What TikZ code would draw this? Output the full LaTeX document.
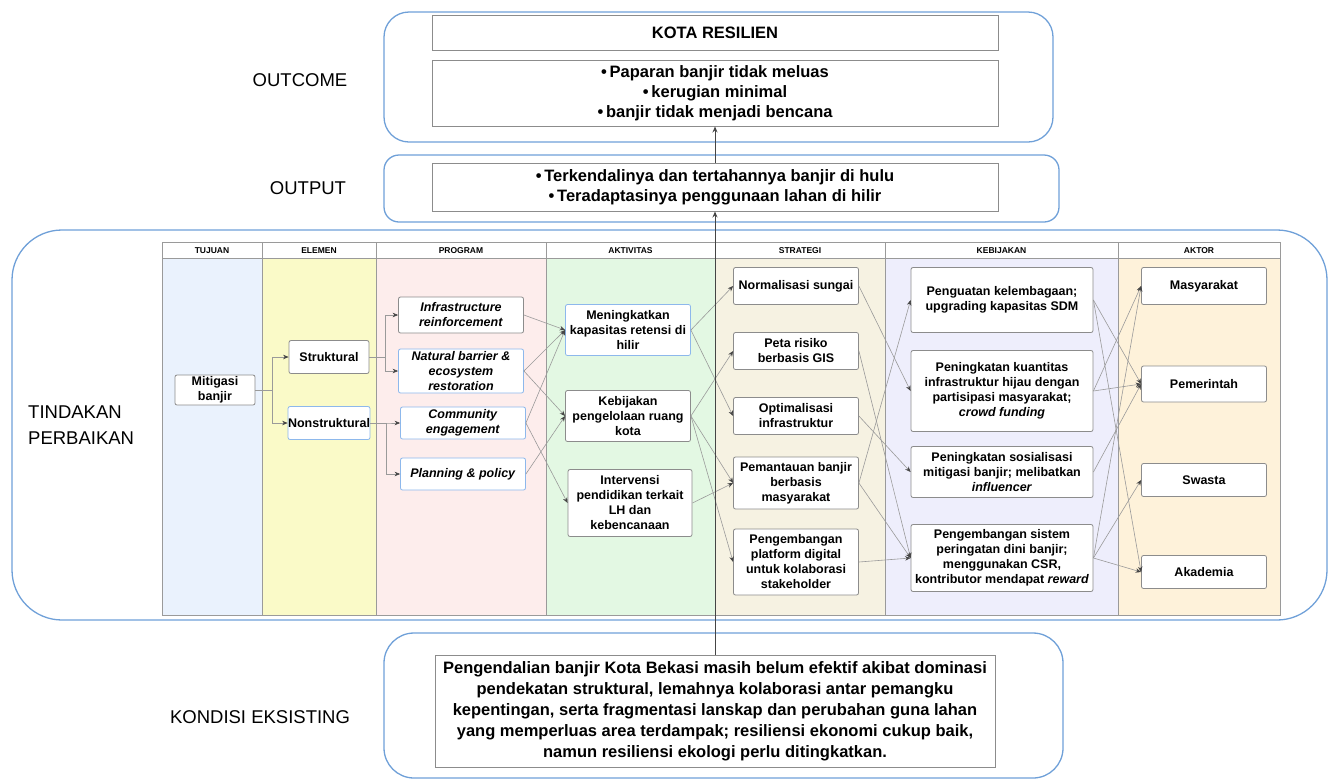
\documentclass[tikz,border=0pt]{standalone}
\usepackage{fontspec}
\setmainfont{Liberation Sans}
\usetikzlibrary{arrows.meta}
\definecolor{frameblue}{HTML}{6FA0D8}
\definecolor{boxgray}{HTML}{8C8C8C}
\definecolor{boxblue}{HTML}{8DB8EC}
\definecolor{linegray}{HTML}{9A9A9A}
\definecolor{arrowdark}{HTML}{454545}
\definecolor{tablegray}{HTML}{9A9A9A}
\definecolor{ctujuan}{HTML}{EAF2FD}
\definecolor{celemen}{HTML}{FAFAC8}
\definecolor{cprogram}{HTML}{FDEDEC}
\definecolor{caktivitas}{HTML}{E3F8E3}
\definecolor{cstrategi}{HTML}{F6F2E2}
\definecolor{ckebijakan}{HTML}{EEEEFC}
\definecolor{caktor}{HTML}{FEF2DA}
\begin{document}
\begin{tikzpicture}[x=1pt,y=-1pt,
  frame/.style={draw=frameblue, line width=1.3pt},
  bigbox/.style={draw=boxgray, fill=white, line width=0.9pt, align=center, font=\bfseries\fontsize{16.5}{20}\selectfont, inner sep=0pt},
  box/.style={draw=boxgray, fill=white, rounded corners=2pt, line width=0.8pt, align=center, font=\bfseries\fontsize{12.5}{15}\selectfont, inner sep=1pt},
  bbox/.style={box, draw=boxblue},
  conn/.style={draw=linegray, line width=0.6pt, -{Stealth[length=5.5pt,width=4.5pt,color=arrowdark]}},
  mainconn/.style={draw=arrowdark, line width=1pt, -{Stealth[length=6pt,width=5pt]}},
  hdr/.style={font=\bfseries\fontsize{8.5}{10}\selectfont, inner sep=0pt},
  lbl/.style={font=\fontsize{18.5}{26}\selectfont, align=left, inner sep=0pt},
  col/.style={draw=tablegray, line width=0.8pt},
]
\useasboundingbox (0,0) rectangle (1330,780);

% frames
\draw[frame, rounded corners=25pt] (384,12) rectangle (1053,142);
\draw[frame, rounded corners=15pt] (384,155) rectangle (1059,222);
\draw[frame, rounded corners=50pt] (12,230) rectangle (1327,620);
\draw[frame, rounded corners=30pt] (384,633) rectangle (1063,778);

% left labels
\node[lbl] (lout) at (300,80) {OUTCOME};
\node[lbl] (loutput) at (308,188) {OUTPUT};
\node[lbl, anchor=west] (ltin) at (28,425) {TINDAKAN\\PERBAIKAN};
\node[lbl] (lkon) at (260,717) {KONDISI EKSISTING};

% table columns
\foreach \a/\b/\c/\t in {162/262/ctujuan/TUJUAN, 262/376/celemen/ELEMEN, 376/546/cprogram/PROGRAM, 546/715/caktivitas/AKTIVITAS, 715/885/cstrategi/STRATEGI, 885/1118/ckebijakan/KEBIJAKAN, 1118/1280/caktor/AKTOR}{
  \draw[col, fill=\c] (\a,258) rectangle (\b,615);
  \draw[col, fill=white] (\a,242) rectangle (\b,258);
  \node[hdr] (hdr-\t) at ({(\a+\b)/2},250.5) {\t};
}

% outcome / output / kondisi boxes
\node[bigbox, minimum width=566, minimum height=35] (kota) at (715,32.5) {KOTA RESILIEN};
\node[bigbox, minimum width=566, minimum height=66] (outcome) at (715,93) {•\,Paparan banjir tidak meluas\\ •\,kerugian minimal\\ •\,banjir tidak menjadi bencana};
\node[bigbox, minimum width=566, minimum height=48] (outbox) at (715,187) {•\,Terkendalinya dan tertahannya banjir di hulu\\ •\,Teradaptasinya penggunaan lahan di hilir};
\node[bigbox, minimum width=560, minimum height=112, font=\bfseries\fontsize{16.5}{21}\selectfont] (kondisi) at (715,711) {Pengendalian banjir Kota Bekasi masih belum efektif akibat dominasi\\ pendekatan struktural, lemahnya kolaborasi antar pemangku\\ kepentingan, serta fragmentasi lanskap dan perubahan guna lahan\\ yang memperluas area terdampak; resiliensi ekonomi cukup baik,\\ namun resiliensi ekologi perlu ditingkatkan.};

% table nodes
\node[box, minimum width=80, minimum height=30] (mit) at (215,390) {Mitigasi\\banjir};
\node[box, minimum width=80, minimum height=33] (str) at (329,357) {Struktural};
\node[bbox, minimum width=80, minimum height=33, inner sep=0pt] (non) at (329,423) {Nonstruktural};

\node[box, minimum width=125, minimum height=36] (infra) at (461,315) {\textit{Infrastructure}\\\textit{reinforcement}};
\node[bbox, minimum width=125, minimum height=44] (nat) at (461,371) {\textit{Natural barrier \&}\\\textit{ecosystem}\\\textit{restoration}};
\node[bbox, minimum width=125, minimum height=32] (com) at (463,423) {\textit{Community}\\\textit{engagement}};
\node[bbox, minimum width=125, minimum height=32] (plan) at (463,474) {\textit{Planning \& policy}};

\node[bbox, minimum width=125, minimum height=51] (men) at (628,330) {Meningkatkan\\kapasitas retensi di\\hilir};
\node[box, minimum width=125, minimum height=51] (keb) at (628,416) {Kebijakan\\pengelolaan ruang\\kota};
\node[box, minimum width=124, minimum height=67] (int) at (630,503) {Intervensi\\pendidikan terkait\\LH dan\\kebencanaan};

\node[box, minimum width=125, minimum height=37] (nor) at (796,286) {Normalisasi sungai};
\node[box, minimum width=125, minimum height=37] (peta) at (796,351) {Peta risiko\\berbasis GIS};
\node[box, minimum width=125, minimum height=37] (opt) at (796,416) {Optimalisasi\\infrastruktur};
\node[box, minimum width=125, minimum height=52] (pem) at (796,483) {Pemantauan banjir\\berbasis\\masyarakat};
\node[box, minimum width=125, minimum height=66] (plat) at (796,562) {Pengembangan\\platform digital\\untuk kolaborasi\\stakeholder};

\node[box, minimum width=182, minimum height=65] (pengu) at (1002,300) {Penguatan kelembagaan;\\upgrading kapasitas SDM};
\node[box, minimum width=182, minimum height=81] (kuan) at (1002,391) {Peningkatan kuantitas\\infrastruktur hijau dengan\\partisipasi masyarakat;\\\textit{crowd funding}};
\node[box, minimum width=182, minimum height=51] (sos) at (1002,472) {Peningkatan sosialisasi\\mitigasi banjir; melibatkan\\\textit{influencer}};
\node[box, minimum width=182, minimum height=67] (sis) at (1002,558) {Pengembangan sistem\\peringatan dini banjir;\\menggunakan CSR,\\kontributor mendapat \textit{reward}};

\node[box, minimum width=125, minimum height=37] (mas) at (1204,286) {Masyarakat};
\node[box, minimum width=125, minimum height=36] (pmr) at (1204,384) {Pemerintah};
\node[box, minimum width=125, minimum height=33] (swa) at (1204,480) {Swasta};
\node[box, minimum width=125, minimum height=33] (aka) at (1204,572) {Akademia};

% elbow connectors
\draw[conn] (mit.east) -- ++(17,0) |- (str.west);
\draw[conn] (mit.east) -- ++(17,0) |- (non.west);
\draw[conn] (str.east) -- ++(16,0) |- (infra.west);
\draw[conn] (str.east) -- ++(16,0) |- (nat.west);
\draw[conn] (non.east) -- ++(16,0) |- (com.west);
\draw[conn] (non.east) -- ++(16,0) |- (plan.west);

% program -> aktivitas
\draw[conn] (infra.east) -- (men.west);
\draw[conn] (nat.east) -- (men.west);
\draw[conn] (nat.east) -- (keb.west);
\draw[conn] (com.east) -- (men.west);
\draw[conn] (com.east) -- (int.west);
\draw[conn] (plan.east) -- (keb.west);

% aktivitas -> strategi
\draw[conn] (men.east) -- (nor.west);
\draw[conn] (men.east) -- (opt.west);
\draw[conn] (keb.east) -- (peta.west);
\draw[conn] (keb.east) -- (pem.west);
\draw[conn] (keb.east) -- (plat.west);
\draw[conn] (int.east) -- (pem.west);

% strategi -> kebijakan
\draw[conn] (nor.east) -- (kuan.west);
\draw[conn] (peta.east) -- (sis.west);
\draw[conn] (opt.east) -- (sos.west);
\draw[conn] (pem.east) -- (pengu.west);
\draw[conn] (pem.east) -- (sis.west);
\draw[conn] (plat.east) -- (sis.west);

% kebijakan -> aktor
\draw[conn] (pengu.east) -- (pmr.west);
\draw[conn] (pengu.east) -- (aka.west);
\draw[conn] (kuan.east) -- (mas.west);
\draw[conn] (kuan.east) -- (pmr.west);
\draw[conn] (sos.east) -- (pmr.west);
\draw[conn] (sis.east) -- (mas.west);
\draw[conn] (sis.east) -- (swa.west);
\draw[conn] (sis.east) -- (aka.west);

% main vertical flow
\draw[mainconn] (kondisi.north) -- (outbox.south);
\draw[mainconn] (outbox.north) -- (outcome.south);
\end{tikzpicture}
\end{document}
